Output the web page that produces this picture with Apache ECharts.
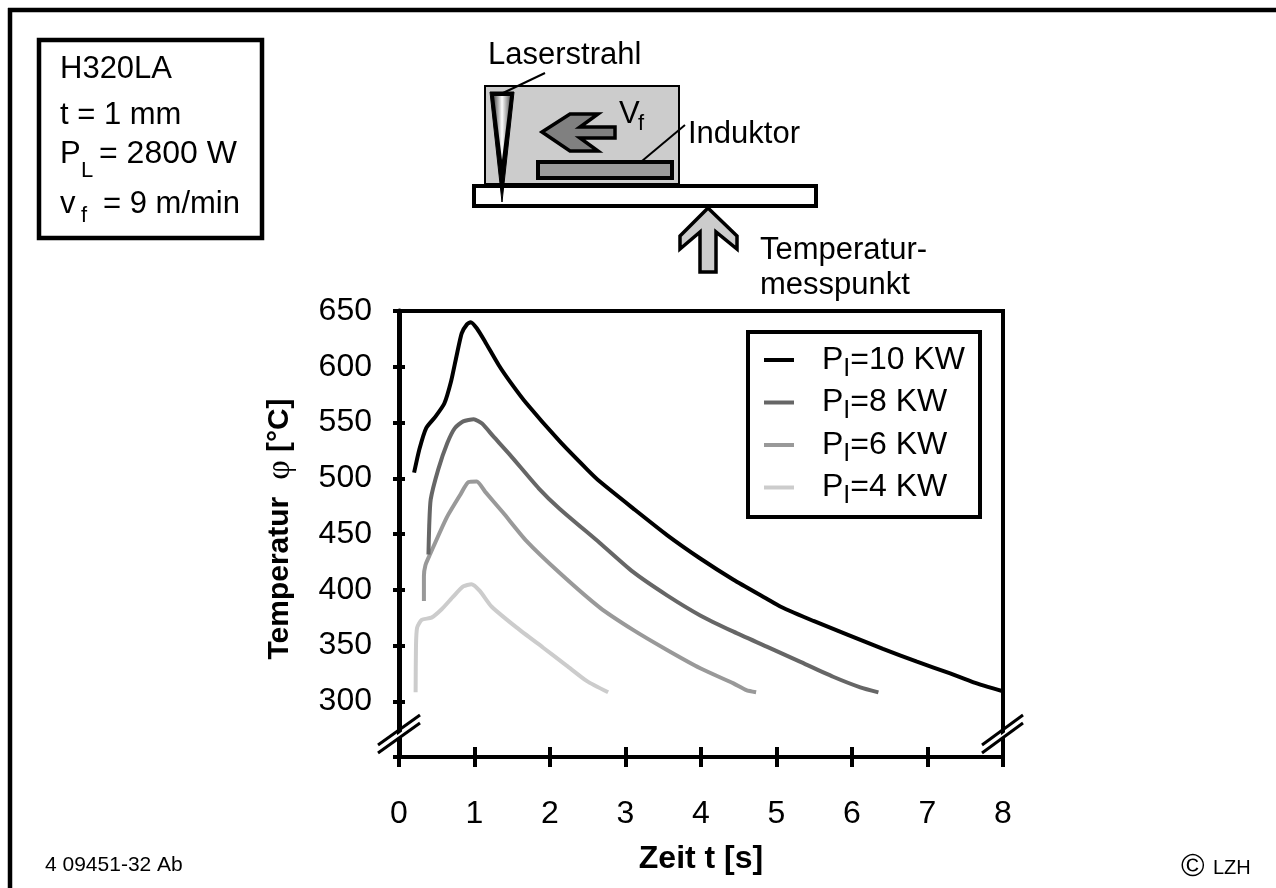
<!DOCTYPE html>
<html><head><meta charset="utf-8">
<style>html,body{margin:0;padding:0;background:#fff}#c{width:1276px;height:888px}</style>
<script src="https://cdn.jsdelivr.net/npm/echarts@6/dist/echarts.min.js"></script>
</head><body><div id="c"></div>
<script>
var names = ['P{s|I}=10 KW','P{s|I}=8 KW','P{s|I}=6 KW','P{s|I}=4 KW'];
var p10 = [[0.2,505],[0.27,526],[0.36,545],[0.48,555],[0.6,567],[0.69,587],[0.76,609],[0.83,630],[0.9,638],[0.95,640],[1.03,634.5],[1.14,622.5],[1.32,601.6],[1.47,586.7],[1.69,567],[2.13,533],[2.49,508],[2.66,497],[3.1,473],[3.55,449],[3.99,428],[4.43,409],[4.87,392],[5.05,385],[5.49,372],[5.93,360],[6.41,347],[6.86,335.5],[7.3,325],[7.61,317],[8,309]];
var p8 = [[0.39,431.6],[0.4,457],[0.42,481],[0.52,508],[0.64,531.6],[0.74,545],[0.85,551],[0.99,553],[1.1,549],[1.25,537.5],[1.47,521],[1.85,491],[2.13,472.5],[2.66,442],[3.1,416],[3.55,395],[3.99,377],[4.43,362.4],[4.87,349],[5.31,335.5],[5.75,322],[6.11,312.5],[6.35,308]];
var p6 = [[0.33,390],[0.33,412],[0.35,422],[0.41,431.6],[0.63,464.5],[0.81,485],[0.92,496.6],[1.03,497],[1.14,488],[1.38,469],[1.69,443.6],[2.13,415],[2.66,384],[3.1,364],[3.55,346],[3.99,329.6],[4.43,316],[4.6,310],[4.73,308]];
var p4 = [[0.22,308],[0.225,350],[0.24,366],[0.3,373],[0.43,375],[0.565,382.5],[0.72,394],[0.85,403],[0.96,405],[1.07,399],[1.225,385],[1.56,366],[1.91,348],[2.22,332],[2.49,318],[2.77,308]];
var colors = ['#000000','#666666','#999999','#cccccc'];
var F = '"Liberation Sans"';

function txt(s,x,y,size){return {type:'text',silent:true,style:{text:s,x:x,y:y-size*0.8,fill:'#000',font:size+'px '+F}};}
function ln(a,b,c,d,w){return {type:'line',silent:true,shape:{x1:a,y1:b,x2:c,y2:d},style:{stroke:'#000',lineWidth:w}};}
function poly(pts,fill,sw){return {type:'polygon',silent:true,shape:{points:pts},style:{fill:fill,stroke:'#000',lineWidth:sw,lineJoin:'miter'}};}
function rc(x,y,w,h,fill,sw,st){return {type:'rect',silent:true,shape:{x:x,y:y,width:w,height:h},style:{fill:fill,stroke:st||'#000',lineWidth:sw}};}

var graphics = [
  // page frame
  ln(10,8,10,888,4.5), ln(8,10,1276,10,4.5),
  // parameter box
  rc(39,40,223,198,'#fff',4.5),
  txt('H320LA',60,79,31), txt('t = 1 mm',60,125,31),
  txt('P',60,164,31), txt('L',81,178,22), txt('= 2800 W',99,164,32),
  txt('v',60,214,31), txt('f',81,223,22), txt('= 9 m/min',103,214,31),
  // process sketch
  rc(485,86,194,98,'#cccccc',2),
  rc(474,186,342,20,'#fff',4),
  rc(538,162,134,16,'#999999',4),
  poly([[490,92],[514,92],[502,202]],'#000',1),
  {type:'polygon',silent:true,shape:{points:[[494,96],[510,96],[502,160]]},style:{fill:{type:'linear',x:0,y:0,x2:1,y2:0,colorStops:[{offset:0,color:'#555'},{offset:0.5,color:'#fff'},{offset:1,color:'#666'}]}}},
  ln(545,73,503,93,2), ln(685,125,642,161,2),
  poly([[542,132],[570,114],[598,114],[580,127],[615,127],[615,138],[580,138],[598,151],[570,151]],'#808080',3.5),
  poly([[708,208],[737,236],[737,249],[716,232],[716,272],[700,272],[700,232],[680,249],[680,236]],'#cccccc',3.5),
  txt('Laserstrahl',488,65,31), txt('V',619,124,31), txt('f',638,131,22),
  txt('Induktor',688,144,31), txt('Temperatur-',760,260,31), txt('messpunkt',760,295,31),
  // axis breaks
  {type:'polygon',silent:true,z:50,shape:{points:[[380,748],[420,718],[420,723],[380,753]]},style:{fill:'#fff'}},
  {type:'polygon',silent:true,z:50,shape:{points:[[984,748],[1024,718],[1024,723],[984,753]]},style:{fill:'#fff'}},
  Object.assign(ln(378,745,420,715,3),{z:51}), Object.assign(ln(378,753,420,723,3),{z:51}),
  Object.assign(ln(982,745,1023,715,3),{z:51}), Object.assign(ln(982,753,1023,723,3),{z:51}),
  // footer
  txt('4 09451-32 Ab',45,872,21), txt('©',1181,877,32), txt('LZH',1213,874,20)
];

var series = [p10,p8,p6,p4].map(function(d,i){return {
  name:names[i],type:'line',data:d,showSymbol:false,symbol:'none',smooth:0.2,
  lineStyle:{color:colors[i],width:4},itemStyle:{color:colors[i]},z:3+(4-i)
};});

var chart = echarts.init(document.getElementById('c'),null,{renderer:'canvas'});
chart.setOption({
  animation:false,backgroundColor:'#fff',
  grid:{left:399,right:273,top:311,height:446,show:true,borderColor:'#000',borderWidth:4,backgroundColor:'transparent'},
  xAxis:[
    {type:'value',min:0,max:8,interval:1,position:'bottom',name:'Zeit t [s]',nameLocation:'middle',nameGap:86,
     nameTextStyle:{fontFamily:F,fontWeight:'bold',fontSize:32,color:'#000'},
     axisLine:{show:true,onZero:false,lineStyle:{color:'#000',width:4}},
     axisTick:{show:true,inside:false,length:10,lineStyle:{color:'#000',width:4}},
     axisLabel:{show:true,margin:41,fontFamily:F,fontSize:32,color:'#000',showMinLabel:true,showMaxLabel:true},
     splitLine:{show:false}},
    {type:'value',min:0,max:8,interval:1,position:'bottom',
     axisLine:{show:false,onZero:false},
     axisTick:{show:true,inside:true,length:10,lineStyle:{color:'#000',width:4}},
     axisLabel:{show:false},splitLine:{show:false}}
  ],
  yAxis:[
    {type:'value',min:250,max:650,interval:50,position:'left',
     name:'{t|Temperatur}{p|φ}{b|[°C]}',nameLocation:'middle',nameRotate:90,nameGap:102,
     nameTextStyle:{fontFamily:F,color:'#000',rich:{
       t:{fontFamily:F,fontWeight:'bold',fontSize:30,color:'#000',padding:[0,0,0,10]},
       b:{fontFamily:F,fontWeight:'bold',fontSize:30,color:'#000'},
       p:{fontFamily:'"Liberation Serif"',fontSize:34,color:'#000',padding:[0,8,0,17]}}},
     axisLine:{show:true,onZero:false,lineStyle:{color:'#000',width:5}},
     axisTick:{show:true,inside:false,length:6,lineStyle:{color:'#000',width:4}},
     axisLabel:{show:true,margin:27,fontFamily:F,fontSize:32,color:'#000',formatter:function(v){return v===250?'':String(v);}},
     splitLine:{show:false}},
    {type:'value',min:250,max:650,interval:50,position:'left',
     axisLine:{show:false,onZero:false},
     axisTick:{show:true,inside:true,length:6,lineStyle:{color:'#000',width:4}},
     axisLabel:{show:false},splitLine:{show:false}}
  ],
  legend:{show:true,orient:'vertical',left:748,top:332,icon:'rect',itemWidth:30,itemHeight:4,itemGap:5,
    padding:[12,15,8,16],borderColor:'#000',borderWidth:4,backgroundColor:'#fff',selectedMode:false,z:20,
    data:names,
    formatter:function(n){return n;},
    textStyle:{fontFamily:F,fontSize:32,color:'#000',padding:[0,0,0,23],rich:{s:{fontFamily:F,fontSize:25,color:'#000',verticalAlign:'bottom',padding:[18,0,0,0]}}}},
  series:series,
  graphic:graphics
});
</script></body></html>
